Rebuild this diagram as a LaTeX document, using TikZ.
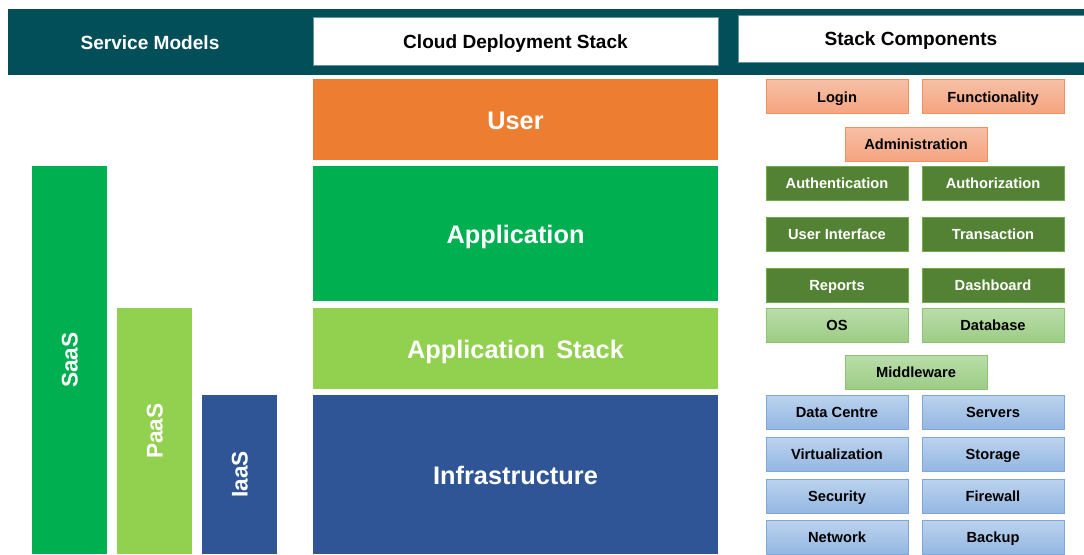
\documentclass[tikz,border=0pt]{standalone}
\usepackage{fontspec}
\setmainfont{Liberation Sans}
\definecolor{hteal}{HTML}{034F59}
\definecolor{orng}{HTML}{ED7D31}
\definecolor{grn}{HTML}{00B050}
\definecolor{lgrn}{HTML}{92D050}
\definecolor{blu}{HTML}{2F5597}
\definecolor{salT}{HTML}{F7C0A6}
\definecolor{salB}{HTML}{F4A480}
\definecolor{salD}{HTML}{F0905F}
\definecolor{dgrn}{HTML}{548235}
\definecolor{dgrnD}{HTML}{70AD47}
\definecolor{lgT}{HTML}{BADDAA}
\definecolor{lgB}{HTML}{9DCC86}
\definecolor{lgD}{HTML}{8CC474}
\definecolor{lbT}{HTML}{BCD3EE}
\definecolor{lbB}{HTML}{93B7E2}
\definecolor{lbD}{HTML}{7FA8DA}
\tikzset{
  hdrfont/.style={font=\fontsize{14.3}{16}\selectfont\bfseries, text height=11.2pt, text depth=0pt},
  hdrbox/.style={hdrfont, fill=white, draw=hteal!60, line width=0.4pt},
  stackbox/.style={anchor=north west, minimum width=303.75pt, text=white, font=\fontsize{19}{22}\selectfont\bfseries, text height=15.6pt, text depth=0pt},
  bar/.style={anchor=north west, minimum width=56.25pt},
  comp/.style={minimum width=106.5pt, minimum height=25.5pt, line width=0.6pt, font=\fontsize{11}{13}\selectfont\bfseries, text height=8.3pt, text depth=0pt},
  salmon/.style={comp, top color=salT, bottom color=salB, draw=salD, text=black},
  dark/.style={comp, fill=dgrn, draw=dgrnD, text=white},
  light/.style={comp, top color=lgT, bottom color=lgB, draw=lgD, text=black},
  blue/.style={comp, top color=lbT, bottom color=lbB, draw=lbD, text=black},
  vlabel/.style={text=white, rotate=90, font=\fontsize{17}{20}\selectfont\bfseries, text height=12.2pt, text depth=0pt},
}
\begin{document}
\begin{tikzpicture}[x=0.75pt, y=-0.75pt, inner sep=0pt, outer sep=0pt]
\useasboundingbox (0,0) rectangle (1084,554);
% header band
\node[fill=hteal, anchor=north west, minimum width=807pt, minimum height=49.5pt] (band) at (8,9) {};
\node[hdrfont, text=white] (sm) at (150,42) {Service Models};
\node[hdrbox, anchor=north west, minimum width=303.75pt, minimum height=36pt] (cds) at (313,17) {Cloud Deployment Stack};
\node[hdrbox, anchor=north west, minimum width=259.5pt, minimum height=35.25pt] (sc) at (738,15) {Stack Components};
% stack
\node[stackbox, fill=orng, minimum height=60.75pt] (user) at (313,79) {User};
\node[stackbox, fill=grn, minimum height=101.25pt] (app) at (313,166) {Application};
\node[stackbox, fill=lgrn, minimum height=60.75pt] (appst) at (313,308) {Application\ \,Stack};
\node[stackbox, fill=blu, minimum height=119.25pt] (infra) at (313,395) {Infrastructure};
% service model bars
\node[bar, fill=grn, minimum height=291pt] (saas) at (32,166) {};
\node[vlabel] (saast) at (saas.center) {SaaS};
\node[bar, fill=lgrn, minimum height=184.5pt] (paas) at (117,308) {};
\node[vlabel] (paast) at (paas.center) {PaaS};
\node[bar, fill=blu, minimum height=119.25pt] (iaas) at (202,395) {};
\node[vlabel] (iaast) at (iaas.center) {IaaS};
% components
\node[salmon] (login) at (837,96.5) {Login};
\node[salmon] (func) at (993,96.5) {Functionality};
\node[salmon] (admin) at (916,144) {Administration};
\node[dark] (authn) at (837,183) {Authentication};
\node[dark] (authz) at (993,183) {Authorization};
\node[dark] (ui) at (837,234) {User Interface};
\node[dark] (trans) at (993,234) {Transaction};
\node[dark] (rep) at (837,285) {Reports};
\node[dark] (dash) at (993,285) {Dashboard};
\node[light] (os) at (837,325) {OS};
\node[light] (db) at (993,325) {Database};
\node[light] (mw) at (916,372) {Middleware};
\node[blue] (dc) at (837,412) {Data Centre};
\node[blue] (srv) at (993,412) {Servers};
\node[blue] (virt) at (837,454) {Virtualization};
\node[blue] (stor) at (993,454) {Storage};
\node[blue] (sec) at (837,496) {Security};
\node[blue] (fw) at (993,496) {Firewall};
\node[blue] (net) at (837,537) {Network};
\node[blue] (bak) at (993,537) {Backup};
\end{tikzpicture}
\end{document}
